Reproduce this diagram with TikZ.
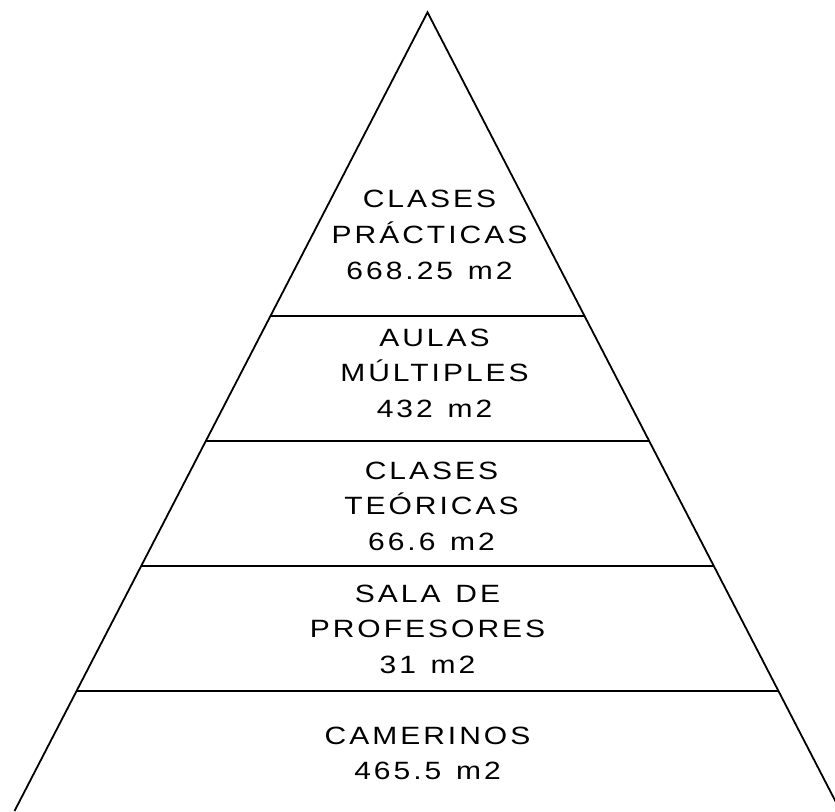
\documentclass[tikz,border=0pt]{standalone}
\usepackage{fontspec}
\setmainfont{Liberation Sans}
\newfontfamily\pyrfont[FakeStretch=1.2, LetterSpace=12, WordSpace=1.3]{Liberation Sans}
\usetikzlibrary{calc}

\begin{document}
\begin{tikzpicture}[x=1pt, y=-1pt, line width=1.8pt, every node/.style={font=\pyrfont\fontsize{25}{35.7}\selectfont, align=center, inner sep=0pt}]
    \useasboundingbox (0,0) rectangle (835,811);
    \coordinate (top) at (427.5,12.3);
    \coordinate (BL) at (14.5,811);
    \coordinate (BR) at (840.5,811);
    \draw (BL) -- (top) -- (BR);
    \foreach \t [count=\i] in {0.3802,0.5371,0.6936,0.8501}
        \draw ($(top)!\t!(BL)$) coordinate (L\i) -- ($(top)!\t!(BR)$) coordinate (R\i);
    \node (practicas) at (429.5,234.7) {CLASES\\PRÁCTICAS\\668.25 m2};
    \node (aulas) at (434.5,373.3) {AULAS\\MÚLTIPLES\\432 m2};
    \node (teoricas) at (431.5,506.3) {CLASES\\TEÓRICAS\\66.6 m2};
    \node (sala) at (427.5,629.2) {SALA DE\\PROFESORES\\31 m2};
    \node (camerinos) at (427.5,753.5) {CAMERINOS\\465.5 m2};
\end{tikzpicture}
\end{document}
